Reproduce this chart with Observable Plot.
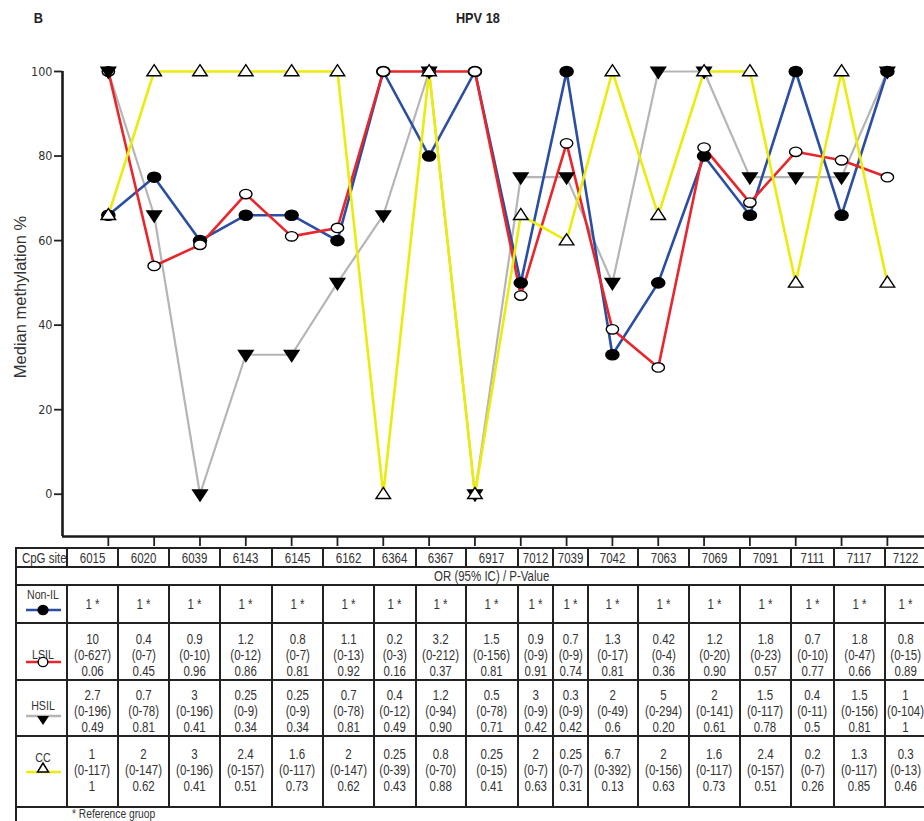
<!DOCTYPE html>
<html>
<head>
<meta charset="utf-8">
<script src="https://cdn.jsdelivr.net/npm/d3@7"></script>
<script src="https://cdn.jsdelivr.net/npm/@observablehq/plot@0.6"></script>
<style>
  html, body { margin: 0; padding: 0; background: #fff; overflow: hidden; width: 924px; height: 821px; }
  #wrap { position: relative; width: 924px; height: 821px; overflow: hidden; font-family: "Liberation Sans", Arial, sans-serif; }
  .ttl { position: absolute; top: 9px; font-weight: bold; font-size: 15px; color: #222; z-index: 5; }
  .ttl span { display: inline-block; transform: scaleX(0.85); }
  #chart { position: absolute; left: 0; top: 0; z-index: 1; }
  table { position: absolute; left: 15px; top: 547px; width: 910px; border-collapse: collapse; table-layout: fixed; color: #333; font-size: 14px; line-height: 16px; z-index: 2; background: #fff; }
  td { border: 2px solid #222; padding: 0; text-align: center; vertical-align: middle; overflow: hidden; white-space: nowrap; }
  .n { display: inline-block; transform: scaleX(0.82); transform-origin: 50% 50%; }
  td.last .n { margin-left: -4px; margin-right: -4px; }
  tr.hdr td { height: 17px; }
  tr.orrow td { height: 14px; text-align: left; padding-left: 417px; }
  tr.orrow .n { transform-origin: 0 50%; }
  tr.nonil td { height: 36px; }
  tr.lsil td { height: 54px; padding-top: 7px; box-sizing: border-box; }
  tr.hsil td { height: 53px; padding-top: 6px; box-sizing: border-box; }
  tr.cc td { height: 71px; vertical-align: top; padding-top: 9px; box-sizing: border-box; }
  tr.foot td { height: 14px; text-align: left; padding-left: 55px; border-right: none; border-bottom: none; vertical-align: top; font-size: 12.5px; line-height: 13px; }
  tr.foot .n { transform-origin: 0 50%; }
  td.lab { padding: 0 !important; vertical-align: top !important; }
</style>
</head>
<body>
<div id="wrap">
  <div class="ttl" style="left:33px"><span>B</span></div>
  <div class="ttl" style="left:0; width:956px; text-align:center"><span>HPV 18</span></div>
  <div id="chart"></div>
  <table id="tbl"></table>
</div>
<script>
// ---- chart data ----
const sites = ["6015","6020","6039","6143","6145","6162","6364","6367","6917","7012","7039","7042","7063","7069","7091","7111","7117","7122"];
const nonIL = [66,75,60,66,66,60,100,80,100,50,100,33,50,80,66,100,66,100];
const lsil  = [100,54,59,71,61,63,100,100,100,47,83,39,30,82,69,81,79,75];
const hsil  = [100,66,0,33,33,50,66,100,0,75,75,50,100,100,75,75,75,100];
const cc    = [66,100,100,100,100,100,0,100,0,66,60,100,66,100,100,50,100,50];
const yTicks = [0,20,40,60,80,100];

// ---- table data ----
const nonILOR = sites.map(() => "1 *");
const lsilOR = ["10","0.4","0.9","1.2","0.8","1.1","0.2","3.2","1.5","0.9","0.7","1.3","0.42","1.2","1.8","0.7","1.8","0.8"];
const lsilCI = ["(0-627)","(0-7)","(0-10)","(0-12)","(0-7)","(0-13)","(0-3)","(0-212)","(0-156)","(0-9)","(0-9)","(0-17)","(0-4)","(0-20)","(0-23)","(0-10)","(0-47)","(0-15)"];
const lsilP  = ["0.06","0.45","0.96","0.86","0.81","0.92","0.16","0.37","0.81","0.91","0.74","0.81","0.36","0.90","0.57","0.77","0.66","0.89"];
const hsilOR = ["2.7","0.7","3","0.25","0.25","0.7","0.4","1.2","0.5","3","0.3","2","5","2","1.5","0.4","1.5","1"];
const hsilCI = ["(0-196)","(0-78)","(0-196)","(0-9)","(0-9)","(0-78)","(0-12)","(0-94)","(0-78)","(0-9)","(0-9)","(0-49)","(0-294)","(0-141)","(0-117)","(0-11)","(0-156)","(0-104)"];
const hsilP  = ["0.49","0.81","0.41","0.34","0.34","0.81","0.49","0.90","0.71","0.42","0.42","0.6","0.20","0.61","0.78","0.5","0.81","1"];
const ccOR = ["1","2","3","2.4","1.6","2","0.25","0.8","0.25","2","0.25","6.7","2","1.6","2.4","0.2","1.3","0.3"];
const ccCI = ["(0-117)","(0-147)","(0-196)","(0-157)","(0-117)","(0-147)","(0-39)","(0-70)","(0-15)","(0-7)","(0-7)","(0-392)","(0-156)","(0-117)","(0-157)","(0-7)","(0-117)","(0-13)"];
const ccP  = ["1","0.62","0.41","0.51","0.73","0.62","0.43","0.88","0.41","0.63","0.31","0.13","0.63","0.73","0.51","0.26","0.85","0.46"];

const groups = [
  {name: "Non-IL", values: nonIL, color: "#2b4ea2", width: 2.6, shape: "disc"},
  {name: "LSIL",   values: lsil,  color: "#e8262b", width: 2.6, shape: "ring"},
  {name: "HSIL",   values: hsil,  color: "#b5b5b5", width: 2.2, shape: "down"},
  {name: "CC",     values: cc,    color: "#ebeb0c", width: 2.6, shape: "up"}
];

// ---- custom symbols ----
function ellipse(ctx, rx, ry) {
  const k = 0.5523;
  ctx.moveTo(rx, 0);
  ctx.bezierCurveTo(rx, k*ry, k*rx, ry, 0, ry);
  ctx.bezierCurveTo(-k*rx, ry, -rx, k*ry, -rx, 0);
  ctx.bezierCurveTo(-rx, -k*ry, -k*rx, -ry, 0, -ry);
  ctx.bezierCurveTo(k*rx, -ry, rx, -k*ry, rx, 0);
  ctx.closePath();
}
const symbols = {
  disc: {draw(ctx) { ellipse(ctx, 6.6, 5.1); }},
  ring: {draw(ctx) { ellipse(ctx, 6.2, 4.7); }},
  up:   {draw(ctx) { ctx.moveTo(0, -6.8); ctx.lineTo(7.3, 4.3); ctx.lineTo(-7.3, 4.3); ctx.closePath(); }},
  down: {draw(ctx) { ctx.moveTo(0, 6.8); ctx.lineTo(7.3, -4.3); ctx.lineTo(-7.3, -4.3); ctx.closePath(); }}
};
const fills = {disc: "black", ring: "white", up: "white", down: "black"};

const data = groups.map(g => g.values.map((v, i) => ({site: sites[i], i, v, g: g.name})));

const lineOrder = [2, 0, 1, 3];
const marks = [];
for (const k of lineOrder) {
  marks.push(Plot.line(data[k], {x: "i", y: "v", stroke: groups[k].color, strokeWidth: groups[k].width}));
}
for (let k = 0; k < groups.length; k++) {
  const g = groups[k];
  marks.push(Plot.dot(data[k], {x: "i", y: "v", symbol: symbols[g.shape], r: 6, fill: fills[g.shape], stroke: "black", strokeWidth: 1.4}));
}

const chart = Plot.plot({
  width: 924,
  height: 547,
  marginTop: 71,
  marginBottom: 11,
  marginLeft: 62,
  marginRight: 0,
  style: {fontFamily: '"Liberation Sans Narrow", "Arial Narrow", "DejaVu Sans Condensed", "Liberation Sans", sans-serif', color: "#333", background: "transparent"},
  x: {domain: [-1, 17.81], axis: null},
  y: {domain: [-10, 100], axis: null},
  marks: [
    Plot.axisY({ticks: yTicks, tickSize: 8, tickPadding: 2, fontSize: 12.5, label: null, stroke: "#222", strokeWidth: 1.8, fill: "#333"}),
    Plot.axisX({ticks: d3.range(sites.length), tickSize: 10, tickFormat: () => "", label: null, stroke: "#222", strokeWidth: 1.8}),
    Plot.ruleY([-10], {stroke: "#1a1a1a", strokeWidth: 2.6}),
    Plot.ruleX([-1], {y1: -10, y2: 100, stroke: "#1a1a1a", strokeWidth: 2.6}),
    Plot.text(["Median methylation %"], {frameAnchor: "left", textAnchor: "middle", rotate: -90, dx: -42, dy: -7, fontSize: 16.5, fill: "#333", fontFamily: '"Liberation Sans", Arial, sans-serif'}),
    ...marks
  ]
});
document.getElementById("chart").appendChild(chart);

// ---- table ----
const colW = [51,51,51,51,52,51,51,42,50,52,35,35,50,51,51,51,43,51,41];
const tbl = document.getElementById("tbl");
const n = s => `<span class="n">${s}</span>`;
const last = i => i === sites.length - 1 ? ' class="last"' : "";
let html = "<colgroup>" + colW.map(w => `<col style="width:${w}px">`).join("") + "</colgroup>";
html += `<tr class="hdr"><td style="text-align:left;padding-left:0">${n("CpG site")}</td>` + sites.map((s, i) => `<td${last(i)}>${n(s)}</td>`).join("") + "</tr>";
html += `<tr class="orrow"><td colspan="${sites.length + 1}">${n("OR (95% IC) / P-Value")}</td></tr>`;

function icon(g, textY, lineY) {
  let mk = "";
  const cx = 26;
  if (g.shape === "disc") mk = `<ellipse cx="${cx}" cy="${lineY}" rx="5.6" ry="5.2" fill="black"/>`;
  if (g.shape === "ring") mk = `<ellipse cx="${cx}" cy="${lineY}" rx="4.8" ry="4.6" fill="white" stroke="black" stroke-width="1.4"/>`;
  if (g.shape === "down") mk = `<path d="M${cx-6},${lineY} L${cx+6},${lineY} L${cx},${lineY+9} Z" fill="black"/>`;
  if (g.shape === "up") mk = `<path d="M${cx-5.5},${lineY} L${cx+5.5},${lineY} L${cx},${lineY-9} Z" fill="white" stroke="black" stroke-width="1.5"/>`;
  return `<svg width="49" height="${lineY + 12}" style="display:block">
    <text x="${cx}" y="${textY}" text-anchor="middle" font-size="13" fill="#333" transform="translate(${cx},0) scale(0.82,1) translate(${-cx},0)" font-family='"Liberation Sans",Arial,sans-serif'>${g.name}</text>
    <line x1="9" x2="44" y1="${lineY}" y2="${lineY}" stroke="${g.color}" stroke-width="2.6"/>
    ${mk}
  </svg>`;
}
const cell3 = (a, b, c, i) => `<td${last(i)}>${n(`${a}<br>${b}<br>${c}`)}</td>`;
html += `<tr class="nonil"><td class="lab">${icon(groups[0], 13, 24)}</td>` + nonILOR.map((s, i) => `<td${last(i)}>${n(s)}</td>`).join("") + "</tr>";
html += `<tr class="lsil"><td class="lab">${icon(groups[1], 35, 38)}</td>` + sites.map((s, i) => cell3(lsilOR[i], lsilCI[i], lsilP[i], i)).join("") + "</tr>";
html += `<tr class="hsil"><td class="lab">${icon(groups[2], 29, 35)}</td>` + sites.map((s, i) => cell3(hsilOR[i], hsilCI[i], hsilP[i], i)).join("") + "</tr>";
html += `<tr class="cc"><td class="lab">${icon(groups[3], 25, 35)}</td>` + sites.map((s, i) => cell3(ccOR[i], ccCI[i], ccP[i], i)).join("") + "</tr>";
html += `<tr class="foot"><td colspan="${sites.length + 1}">${n("* Reference gruop")}</td></tr>`;
tbl.innerHTML = html;
</script>
</body>
</html>
